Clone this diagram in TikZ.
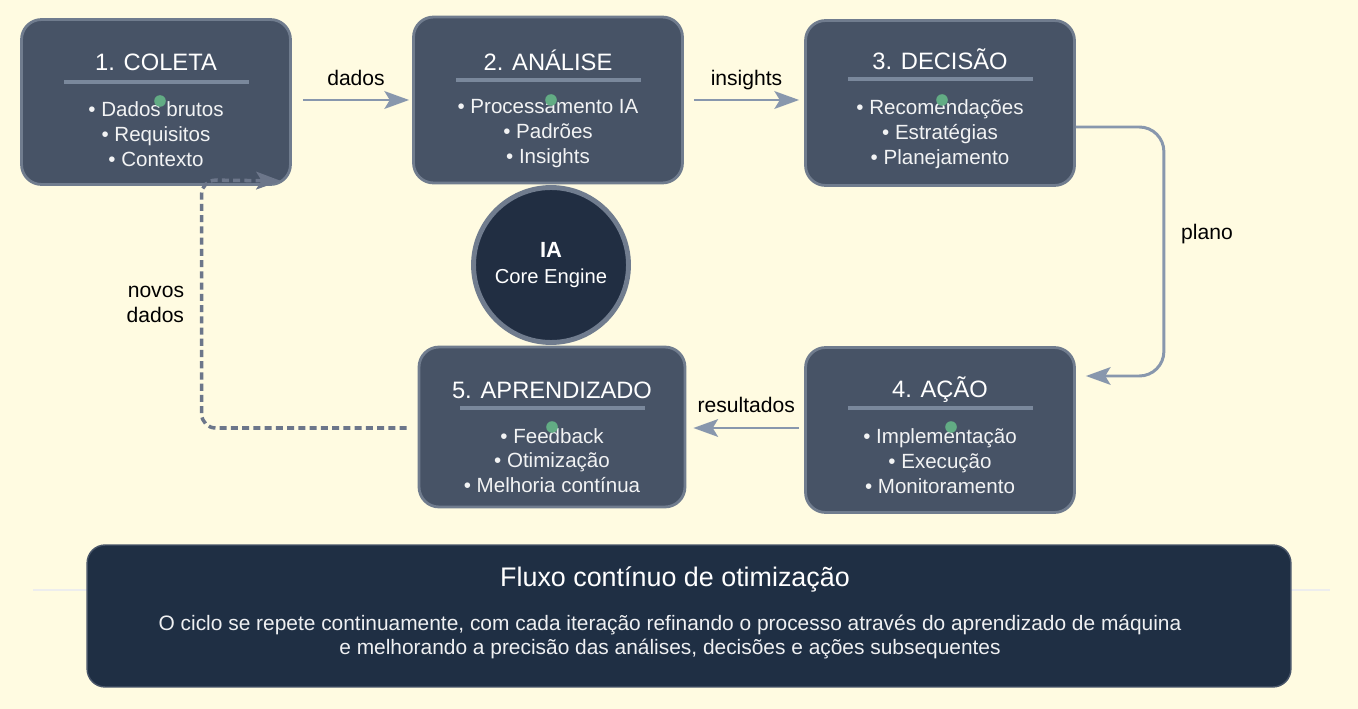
\documentclass[tikz,border=0pt]{standalone}
\usepackage{fontspec}
\setmainfont{Liberation Sans}
\usetikzlibrary{arrows.meta, positioning, calc}
\definecolor{bgcream}{RGB}{255,251,225}
\definecolor{stagefill}{RGB}{71,83,102}
\definecolor{stageedge}{RGB}{112,124,142}
\definecolor{rulegray}{RGB}{122,136,156}
\definecolor{corenavy}{RGB}{33,46,66}
\definecolor{panelnavy}{RGB}{31,47,68}
\definecolor{flowgray}{RGB}{136,151,173}
\definecolor{loopgray}{RGB}{108,118,138}
\definecolor{dotgreen}{RGB}{98,172,132}

\begin{document}
\begin{tikzpicture}[
    x=0.02cm, y=-0.02cm,
    stage/.style={rectangle, draw=stageedge, line width=1.6pt, fill=stagefill, rounded corners=0.4cm, minimum width=5.38cm, minimum height=3.3cm},
    stitle/.style={text=white, inner sep=0pt, text height=10pt, text depth=0pt, font={\fontsize{13.5pt}{16pt}\selectfont}},
    slist/.style={text=white!93!stagefill, align=center, inner sep=0pt, font={\fontsize{11.7pt}{14.2pt}\selectfont}},
    divider/.style={draw=rulegray, line width=2.2pt},
    flow/.style={-{Stealth[length=14pt, width=10pt, inset=3pt]}, line width=1.7pt, draw=flowgray},
    flowlabel/.style={inner sep=0pt, text=black, font={\fontsize{12pt}{14.2pt}\selectfont}},
    core/.style={circle, fill=corenavy, draw=stageedge, line width=2.8pt, minimum size=3.1cm, align=center, text=white, font={\fontsize{11.5pt}{14.7pt}\selectfont}},
    panel/.style={rectangle, fill=panelnavy, draw=stageedge!50!panelnavy, line width=0.8pt, rounded corners=0.36cm, minimum width=24.08cm, minimum height=2.84cm}
  ]
    \fill[bgcream] (0,0) rectangle (1358,709);
    \draw[draw=black!7, line width=0.6pt] (33,590) -- (1330,590);

    % stages
    \node[stage] (coleta) at (156,102) {};
    \node[stage, minimum height=3.32cm] (analise) at (548,100) {};
    \node[stage] (decisao) at (940,103) {};
    \node[stage] (acao) at (940,430) {};
    \node[stage, minimum width=5.32cm, minimum height=3.2cm] (aprend) at (552,427) {};

    \node[stitle] (coletaT) at ($(coleta.north)+(0,44)$) {1. COLETA};
    \node[stitle] (analiseT) at ($(analise.north)+(0,46)$) {2. ANÁLISE};
    \node[stitle] (decisaoT) at ($(decisao.north)+(0,42)$) {3. DECISÃO};
    \node[stitle] (acaoT) at ($(acao.north)+(0,43)$) {4. AÇÃO};
    \node[stitle] (aprendT) at ($(aprend.north)+(0,44)$) {5. APRENDIZADO};

    \draw[divider] ($(coletaT)+(-92,20)$) -- ++(185,0);
    \draw[divider] ($(analiseT)+(-92,18)$) -- ++(185,0);
    \draw[divider] ($(decisaoT)+(-92,18)$) -- ++(185,0);
    \draw[divider] ($(acaoT)+(-92,19)$) -- ++(185,0);
    \draw[divider] ($(aprendT)+(-92,18)$) -- ++(185,0);

    \node[slist] (coletaL) at ($(coleta.north)+(0,116)$) {• Dados brutos\\• Requisitos\\• Contexto};
    \node[slist] (analiseL) at ($(analise.north)+(0,118)$) {• Processamento IA\\• Padrões\\• Insights};
    \node[slist] (decisaoL) at ($(decisao.north)+(0,115)$) {• Recomendações\\• Estratégias\\• Planejamento};
    \node[slist] (acaoL) at ($(acao.north)+(0,115)$) {• Implementação\\• Execução\\• Monitoramento};
    \node[slist] (aprendL) at ($(aprend.north)+(0,115)$) {• Feedback\\• Otimização\\• Melhoria contínua};

    \node[core] (engine) at (551,265) {{\fontsize{12.5pt}{14.7pt}\selectfont\bfseries IA}\\Core Engine};

    % connectors
    \draw[flow] ($(coleta.east)+(11,-2)$) -- node[flowlabel, above=7pt] {dados} ($(analise.west)+(-3,0)$);
    \draw[flow] ($(analise.east)+(10,0)$) -- node[flowlabel, above=5pt] {insights} ($(decisao.west)+(-5,-3)$);
    \draw[flow, rounded corners=14] ($(decisao.east)+(0,24)$) -- ++(88,0)
      -- node[flowlabel, right=9pt, yshift=10pt] {plano} ++(0,249) -- ($(acao.east)+(10,-54)$);
    \draw[flow] ($(acao.west)+(-5,-2)$) -- node[flowlabel, above=8pt] {resultados} ($(aprend.east)+(7,1)$);
    \draw[flow, draw=loopgray, line width=2pt, dash pattern=on 4pt off 2.4pt, rounded corners=8] ($(aprend.west)+(-11,1)$) -- ++(-205,0)
      -- node[flowlabel, left=9pt, align=right] {novos\\dados} ++(0,-248) -- ($(coleta.south east)+(-11,-5)$);

    \fill[dotgreen] ($(coleta)+(4,-1)$) circle (3.3pt);
    \fill[dotgreen] ($(analise)+(3,0)$) circle (3.3pt);
    \fill[dotgreen] ($(decisao)+(2,-3)$) circle (3.3pt);
    \fill[dotgreen] ($(acao)+(11,-3)$) circle (3.3pt);
    \fill[dotgreen] ($(aprend)+(0,0)$) circle (3.3pt);

    % summary
    \node[panel] (note) at (689,616) {};
    \node[text=white, inner sep=0pt, font={\fontsize{15.3pt}{18pt}\selectfont}] (noteT) at (675,579) {Fluxo contínuo de otimização};
    \node[text=white!93!panelnavy, inner sep=0pt, align=center, font={\fontsize{11.9pt}{14.2pt}\selectfont}] (noteL) at (670,637)
      {O ciclo se repete continuamente, com cada iteração refinando o processo através do aprendizado de máquina\\e melhorando a precisão das análises, decisões e ações subsequentes};
  \end{tikzpicture}
\end{document}
